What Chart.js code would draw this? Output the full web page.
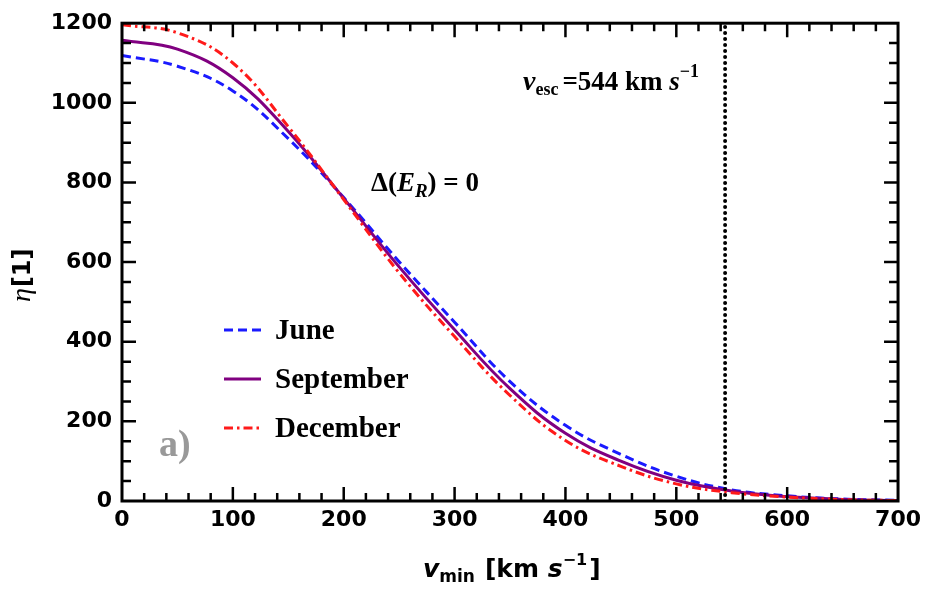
<!DOCTYPE html>
<html>
<head>
<meta charset="utf-8">
<script src="https://cdn.jsdelivr.net/npm/chart.js@4/dist/chart.umd.min.js"></script>
<style>
  html, body { margin: 0; padding: 0; background: #fff; }
  canvas { display: block; }
</style>
</head>
<body>
<canvas id="etaChart" width="927" height="595"></canvas>
<script>
// minimum velocity grid, km/s
const vMin = [0, 50, 100, 150, 200, 250, 300, 350, 400, 450, 500, 550, 600, 650, 700];

// eta for the three months
const june = [1119, 1092, 1030, 910, 762, 601, 449, 300, 190, 117, 62, 28, 13, 5, 1.5];
const september = [1157, 1135, 1063, 928, 760, 588, 430, 282, 170, 100, 52, 25, 11, 4, 1.2];
const december = [1196, 1176, 1100, 940, 757, 573, 413, 265, 152, 87, 43, 21, 10, 3.5, 1];

const vEsc = 544;
const xTicks = [0, 100, 200, 300, 400, 500, 600, 700];
const yTicks = [0, 200, 400, 600, 800, 1000, 1200];

const toPoints = ys => ys.map((y, i) => ({ x: vMin[i], y: y }));

const series = [
  { label: 'June', data: june, color: '#1a1aff', dash: [9, 5], width: 3 },
  { label: 'September', data: september, color: '#800080', dash: [], width: 3 },
  { label: 'December', data: december, color: '#ff1a1a', dash: [9, 4, 2.5, 4], width: 3 },
];

const tickFont = { family: '"DejaVu Sans"', size: 22, weight: 'bold' };

// draw a row of text pieces with different fonts / offsets
function drawRuns(ctx, x, y, parts) {
  parts.forEach(p => {
    ctx.font = p.f;
    ctx.fillText(p.t, x, y + (p.dy || 0));
    x += ctx.measureText(p.t).width + (p.gap || 0);
  });
}

// frame, inward ticks, legend and labels
const decorations = {
  id: 'decorations',
  afterDatasetsDraw(chart) {
    const ctx = chart.ctx;
    const { left, right, top, bottom } = chart.chartArea;
    const sx = chart.scales.x, sy = chart.scales.y;
    ctx.save();
    ctx.strokeStyle = '#000';
    ctx.lineWidth = 2.5;
    ctx.setLineDash([]);
    ctx.beginPath();
    for (let v = 20; v < 700; v += 20) {
      const px = sx.getPixelForValue(v);
      const len = v % 100 === 0 ? 14 : 8;
      ctx.moveTo(px, bottom); ctx.lineTo(px, bottom - len);
      ctx.moveTo(px, top); ctx.lineTo(px, top + len);
    }
    for (let v = 50; v < 1200; v += 50) {
      const py = sy.getPixelForValue(v);
      const len = v % 200 === 0 ? 14 : 9;
      ctx.moveTo(left, py); ctx.lineTo(left + len, py);
      ctx.moveTo(right, py); ctx.lineTo(right - len, py);
    }
    ctx.stroke();
    ctx.lineWidth = 3;
    ctx.strokeRect(left, top, right - left, bottom - top);

    // legend
    ctx.lineWidth = 3;
    const rows = [339, 388, 437];
    series.forEach((s, i) => {
      const ly = rows[i] - 9;
      ctx.strokeStyle = s.color;
      ctx.setLineDash(s.dash);
      ctx.beginPath();
      ctx.moveTo(224, ly); ctx.lineTo(261, ly);
      ctx.stroke();
      ctx.setLineDash([]);
      ctx.fillStyle = '#000';
      ctx.font = 'bold 29px "Liberation Serif"';
      ctx.textBaseline = 'alphabetic';
      ctx.fillText(s.label, 275, rows[i]);
    });

    ctx.fillStyle = '#999';
    ctx.font = 'bold 38px "Liberation Serif"';
    ctx.fillText('a)', 159, 456);

    ctx.fillStyle = '#000';
    drawRuns(ctx, 371, 191, [
      { t: 'Δ(', f: 'bold 27px "Liberation Serif"' },
      { t: 'E', f: 'italic bold 27px "Liberation Serif"' },
      { t: 'R', f: 'italic bold 19px "Liberation Serif"', dy: 6 },
      { t: ') = 0', f: 'bold 27px "Liberation Serif"' },
    ]);

    drawRuns(ctx, 523, 90, [
      { t: 'v', f: 'italic bold 28px "Liberation Serif"' },
      { t: 'esc', f: 'bold 18px "Liberation Serif"', dy: 5, gap: 4 },
      { t: '=544 km ', f: 'bold 27px "Liberation Serif"' },
      { t: 's', f: 'italic bold 27px "Liberation Serif"' },
      { t: '−1', f: 'bold 18px "Liberation Serif"', dy: -13 },
    ]);

    // x axis title
    drawRuns(ctx, 423, 577, [
      { t: 'v', f: 'italic bold 25px "DejaVu Sans"' },
      { t: 'min', f: 'bold 17px "DejaVu Sans"', dy: 5, gap: 10 },
      { t: '[km ', f: 'bold 25px "DejaVu Sans"' },
      { t: 's', f: 'italic bold 25px "DejaVu Sans"' },
      { t: '−1', f: 'bold 16px "DejaVu Sans"', dy: -12, gap: 2 },
      { t: ']', f: 'bold 25px "DejaVu Sans"' },
    ]);

    // y axis title
    ctx.translate(30, 302);
    ctx.rotate(-Math.PI / 2);
    drawRuns(ctx, 0, 0, [
      { t: 'η', f: 'italic 28px "Liberation Serif"', gap: 1 },
      { t: '[1]', f: 'bold 24px "DejaVu Sans"' },
    ]);
    ctx.restore();
  }
};

const datasets = series.map((s, i) => ({
  label: s.label,
  data: toPoints(s.data),
  borderColor: s.color,
  borderWidth: s.width,
  borderDash: s.dash,
  pointRadius: 0,
  tension: 0.4,
  fill: false,
  order: 3 - i,
}));

datasets.push({
  label: 'vesc',
  data: [{ x: vEsc, y: 0 }, { x: vEsc, y: 1200 }],
  borderColor: '#000',
  borderWidth: 4,
  borderDash: [0, 6],
  borderCapStyle: 'round',
  pointRadius: 0,
  fill: false,
  order: 0,
});

new Chart(document.getElementById('etaChart').getContext('2d'), {
  type: 'line',
  data: { datasets: datasets },
  options: {
    responsive: false,
    animation: false,
    devicePixelRatio: 1,
    layout: { padding: { top: 22, right: 25, left: 0, bottom: 0 } },
    plugins: {
      legend: { display: false },
      tooltip: { enabled: false },
    },
    scales: {
      x: {
        type: 'linear',
        min: 0,
        max: 700,
        afterBuildTicks: s => { s.ticks = xTicks.map(v => ({ value: v })); },
        afterFit: s => { s.height = 94; },
        ticks: { font: tickFont, color: '#000', padding: 6, maxRotation: 0, callback: v => String(v) },
        grid: { display: false, drawTicks: false },
        border: { display: false },
      },
      y: {
        type: 'linear',
        min: 0,
        max: 1200,
        afterBuildTicks: s => { s.ticks = yTicks.map(v => ({ value: v })); },
        afterFit: s => { s.width = 122; },
        ticks: { font: tickFont, color: '#000', padding: 10, callback: v => String(v) },
        grid: { display: false, drawTicks: false },
        border: { display: false },
      },
    },
  },
  plugins: [decorations],
});
</script>
</body>
</html>
